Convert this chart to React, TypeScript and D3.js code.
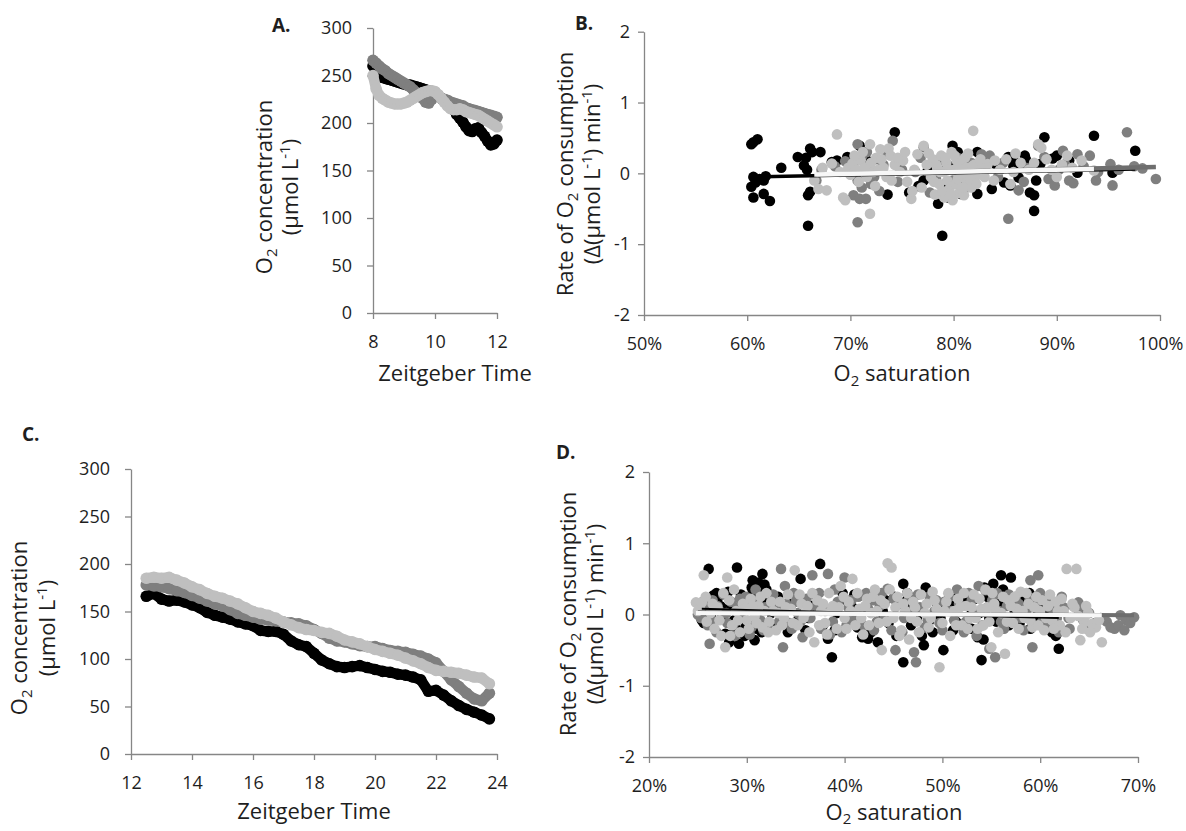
import * as d3 from "d3";
import { useEffect, useRef } from "react";

// ---- Panel A: O2 concentration, ZT 8-12 ----
const timeA = [8.0, 8.1, 8.2, 8.3, 8.4, 8.5, 8.6, 8.7, 8.8, 8.9, 9.0, 9.1, 9.2, 9.3, 9.4, 9.5, 9.6, 9.7, 9.8, 9.9, 10.0,
	10.1, 10.2, 10.3, 10.4, 10.5, 10.6, 10.7, 10.8, 10.9, 11.0, 11.1, 11.2, 11.3, 11.4, 11.5, 11.6, 11.7, 11.8, 11.9, 12.0];
const blackA = [260, 255, 250, 248, 247, 246, 245, 244, 243, 242, 241, 240, 240, 239, 238, 237, 236, 235, 234, 233, 232,
	229, 226, 223, 220, 218, 214, 209, 205, 201, 196, 192, 191, 194, 195, 190, 186, 181, 177, 178, 182];
const darkA = [266, 263, 260, 257, 255, 252, 250, 248, 246, 244, 242, 240, 238, 235, 232, 230, 226, 222, 221, 225, 229,
	228, 226, 225, 224, 222, 221, 220, 219, 218, 216, 215, 214, 213, 212, 211, 210, 209, 208, 207, 206];
const lightA = [250, 236, 229, 226, 224, 222, 221, 220, 220, 220, 221, 222, 224, 226, 228, 230, 232, 233, 234, 234, 233,
	230, 226, 222, 218, 215, 214, 214, 215, 214, 212, 211, 210, 209, 208, 206, 204, 202, 200, 198, 196];

// ---- Panel C: O2 concentration, ZT 12.5-24 ----
const timeC = [12.5, 12.75, 13, 13.25, 13.5, 13.75, 14, 14.25, 14.5, 14.75, 15, 15.25, 15.5, 15.75, 16, 16.25, 16.5, 16.75,
	17, 17.25, 17.5, 17.75, 18, 18.25, 18.5, 18.75, 19, 19.25, 19.5, 19.75, 20, 20.25, 20.5, 20.75, 21, 21.25, 21.5, 21.75,
	22, 22.25, 22.5, 22.75, 23, 23.25, 23.5, 23.75];
const blackC = [166, 169, 163, 161, 162, 160, 157, 154, 149, 146, 144, 142, 139, 137, 135, 130, 129, 129, 126, 119, 115, 113,
	106, 99, 95, 92, 91, 92, 93, 91, 89, 87, 86, 84, 83, 81, 78, 66, 67, 62, 56, 51, 47, 44, 41, 37];
const darkC = [178, 177, 176, 174, 172, 170, 167, 164, 161, 158, 156, 152, 148, 146, 144, 142, 141, 140, 139, 138, 137, 135,
	131, 127, 122, 119, 118, 116, 114, 113, 113, 111, 109, 108, 107, 105, 103, 100, 96, 87, 78, 71, 64, 58, 56, 64];
const lightC = [185, 186, 185, 186, 183, 180, 176, 173, 169, 166, 164, 161, 158, 154, 150, 148, 146, 143, 139, 136, 133, 131,
	130, 128, 127, 124, 120, 118, 116, 113, 110, 108, 106, 104, 101, 98, 95, 91, 88, 87, 86, 85, 83, 81, 80, 74];

// ---- Panel B: rate vs O2 saturation (%) ----
const blackB = [[60.4, 0.41], [60.6, 0.44], [61.0, 0.48], [60.6, -0.05], [60.8, -0.13], [60.4, -0.19], [60.6, -0.34], [61.2, -0.08],
	[61.6, -0.10], [61.6, -0.29], [62.2, -0.39], [61.8, -0.04], [63.3, 0.08], [64.9, 0.23], [65.5, 0.11], [65.7, 0.22], [66.1, 0.35],
	[65.9, -0.74], [65.9, -0.31], [66.1, -0.26], [65.8, 0.05], [66.3, 0.30], [67.1, 0.30], [68.2, 0.16], [68.7, 0.18], [69.7, 0.23],
	[70.9, 0.39], [74.3, 0.58], [71.5, 0.20], [70.2, 0.12], [73.6, -0.30], [75.7, -0.27], [76.6, -0.18], [77.1, -0.10], [77.5, 0.04],
	[78.5, -0.43], [78.9, -0.88], [79.5, -0.34], [79.9, 0.39], [80.4, 0.30], [80.7, -0.06], [80.7, -0.29], [81.5, 0.10], [81.9, -0.10],
	[82.3, 0.30], [82.3, -0.29], [82.7, 0.20], [83.7, -0.22], [84.1, 0.13], [84.9, -0.13], [85.3, 0.23], [85.5, -0.17], [86.3, -0.06],
	[86.9, 0.25], [87.4, -0.27], [87.8, -0.31], [87.8, -0.53], [88.4, 0.13], [88.8, 0.51], [89.6, 0.21], [90.0, 0.25], [91.2, 0.18],
	[92.0, 0.01], [93.6, 0.53], [95.4, 0.01], [97.6, 0.32], [79.6, 0.10], [78.2, -0.05], [84.4, 0.05], [86.0, 0.15], [87.0, 0.20],
	[79.2, -0.15], [80.2, 0.05], [81.2, -0.20], [83.0, 0.05], [85.8, 0.10], [88.0, -0.10]];
const darkB = [[66.7, -0.10], [67.2, 0.05], [68.5, 0.10], [69.5, 0.17], [70.3, -0.31], [70.5, 0.23], [70.7, 0.41], [70.7, -0.10],
	[70.7, -0.69], [70.9, -0.36], [71.1, 0.23], [71.1, -0.20], [71.5, -0.36], [71.8, 0.10], [72.3, -0.05], [72.6, 0.20], [73.2, 0.12],
	[74.1, 0.46], [75.0, 0.05], [76.3, 0.02], [77.1, 0.37], [77.7, -0.27], [78.6, 0.18], [79.3, 0.06], [79.9, -0.10], [80.4, 0.22],
	[81.1, -0.20], [81.7, 0.15], [82.7, 0.27], [83.5, 0.25], [84.3, -0.05], [85.3, -0.64], [86.3, -0.24], [87.0, 0.08], [88.2, 0.39],
	[88.8, 0.23], [89.2, -0.08], [89.8, -0.17], [90.6, 0.32], [90.8, 0.13], [91.2, -0.10], [91.6, -0.14], [92.0, 0.27], [92.6, 0.10],
	[93.2, 0.25], [94.0, 0.02], [95.2, 0.13], [95.4, -0.17], [96.0, 0.05], [96.8, 0.58], [97.5, 0.10], [98.3, 0.07], [99.6, -0.08],
	[71.3, 0.05], [71.6, 0.30], [72.0, -0.15], [72.8, -0.25], [73.6, 0.28], [74.6, -0.12], [76.8, 0.22], [78.3, -0.08], [80.8, 0.05],
	[82.0, -0.12], [84.8, 0.15], [86.8, -0.12], [90.2, 0.05], [93.8, -0.10]];
const lightB = [[66.5, -0.10], [66.9, -0.22], [67.3, 0.08], [67.7, -0.24], [68.2, 0.14], [68.7, 0.55], [69.0, 0.02], [69.3, -0.34],
	[69.5, -0.38], [69.8, 0.08], [70.2, 0.14], [70.6, 0.05], [71.0, 0.18], [71.4, 0.08], [71.9, 0.41], [71.9, -0.57], [72.2, 0.02],
	[72.5, 0.22], [72.9, 0.34], [73.2, 0.08], [73.5, -0.05], [73.9, 0.25], [74.3, 0.12], [74.8, 0.02], [75.1, 0.18], [75.5, -0.12],
	[75.9, -0.36], [76.2, 0.05], [76.5, 0.27], [76.9, -0.20], [77.1, 0.39], [77.4, 0.12], [77.8, -0.05], [78.0, 0.20], [78.2, -0.30],
	[78.4, 0.08], [78.6, -0.15], [78.8, 0.25], [79.0, 0.02], [79.1, -0.34], [79.3, 0.15], [79.4, -0.10], [79.6, -0.22], [79.8, 0.30],
	[79.9, -0.38], [80.0, 0.05], [80.2, -0.15], [80.3, 0.18], [80.5, -0.28], [80.6, 0.10], [80.8, -0.05], [81.0, -0.31], [81.1, 0.22],
	[81.3, -0.12], [81.5, 0.02], [81.7, -0.20], [81.9, 0.60], [82.0, 0.12], [82.4, -0.02], [82.8, 0.08], [83.3, 0.13], [83.9, -0.10],
	[84.5, 0.05], [85.1, 0.20], [85.8, 0.02], [86.5, 0.15], [87.3, 0.05], [88.2, 0.41], [88.5, 0.36], [89.5, 0.05], [90.5, 0.12],
	[91.5, 0.08], [92.4, 0.18], [93.6, 0.04],
	[70.0, -0.02], [70.4, 0.25], [70.8, -0.12], [71.2, 0.30], [71.6, -0.05], [72.0, 0.15], [72.4, -0.18], [72.7, 0.05], [73.0, 0.20],
	[73.7, 0.35], [74.0, -0.10], [74.6, 0.22], [75.3, 0.30], [76.0, -0.25], [77.6, 0.28], [78.1, -0.12], [78.3, 0.12], [78.7, 0.02],
	[78.9, -0.25], [79.2, 0.22], [79.5, 0.05], [79.7, -0.30], [80.1, 0.25], [80.4, -0.08], [80.7, 0.15], [80.9, -0.20], [81.2, 0.08],
	[81.4, 0.28], [81.6, -0.08], [81.8, 0.10], [82.2, -0.15], [82.6, 0.20], [83.0, -0.05], [84.0, 0.18], [85.5, -0.15], [86.0, 0.28],
	[87.8, 0.15], [89.0, 0.20], [90.0, -0.05], [91.0, 0.25]];
// trend lines [x0, y0, x1, y1]
const trendB = { black: [60.4, -0.05, 97.6, 0.06], dark: [66.7, -0.02, 99.6, 0.09], light: [66.5, -0.015, 93.6, 0.06] };

// ---- Panel D: rate vs O2 saturation (%) ----
const blackD = [[25.4, -0.08], [25.6, -0.12], [26.1, 0.64], [26.6, 0.27], [26.9, 0.30], [27.3, 0.12], [27.5, -0.05], [27.8, -0.27],
	[28.1, 0.32], [28.2, -0.39], [28.6, -0.27], [28.9, -0.20], [29.0, 0.66], [29.2, -0.41], [29.5, 0.10], [29.9, -0.15], [30.3, 0.25],
	[30.5, 0.38], [30.6, 0.48], [30.7, 0.15], [30.8, -0.36], [30.9, 0.05], [31.1, 0.30], [31.3, 0.20], [31.6, 0.57], [31.8, 0.42],
	[32.2, 0.18], [32.8, -0.18], [33.5, 0.08], [34.2, -0.25], [35.1, -0.10], [35.5, 0.50], [36.0, -0.22], [36.6, 0.12], [37.5, 0.71],
	[37.8, -0.15], [38.3, -0.34], [38.7, -0.60], [39.2, 0.02], [40.2, 0.20], [40.8, 0.10], [41.3, -0.18], [41.8, -0.32], [42.4, -0.34],
	[42.9, -0.20], [43.4, -0.39], [43.9, 0.05], [44.5, -0.12], [45.1, 0.25], [45.6, 0.15], [46.0, 0.43], [46.0, -0.67], [46.4, 0.30],
	[46.8, -0.15], [47.4, -0.05], [48.1, -0.43], [48.3, 0.38], [48.6, -0.10], [49.0, -0.25], [49.5, 0.12], [50.1, -0.50], [50.6, 0.08],
	[51.1, -0.22], [51.6, 0.25], [52.2, -0.18], [52.8, 0.10], [53.3, 0.22], [53.6, -0.32], [54.0, -0.64], [54.3, 0.38], [54.8, -0.05],
	[55.2, 0.43], [55.7, 0.15], [56.0, 0.55], [56.5, 0.28], [57.0, 0.52], [57.4, 0.05], [57.9, -0.12], [58.4, 0.22], [58.9, 0.30],
	[59.3, -0.08], [59.8, 0.02], [60.5, -0.15], [61.2, -0.25], [61.6, -0.30], [61.9, -0.48],
	[26.3, -0.02], [27.0, 0.22], [27.6, 0.08], [28.4, 0.12], [28.7, -0.08], [29.4, 0.28], [29.8, -0.30], [30.2, 0.10], [30.4, -0.10],
	[30.6, 0.30], [30.9, 0.22], [31.0, -0.20], [31.2, 0.45], [31.4, 0.05], [31.5, -0.25], [32.0, 0.35], [32.5, 0.02], [33.2, 0.25],
	[34.6, 0.15], [36.3, -0.05], [37.0, 0.28], [39.0, -0.22], [39.8, 0.30], [40.5, -0.10], [41.0, 0.28], [42.0, 0.05], [42.7, -0.25],
	[43.6, -0.10], [44.2, 0.20], [45.3, -0.30], [46.2, 0.18], [47.0, 0.10], [47.9, -0.30], [48.8, 0.25], [49.8, -0.05], [51.0, 0.12],
	[51.4, -0.10], [52.5, 0.20], [53.0, -0.20], [53.8, 0.02], [54.2, -0.35], [54.6, 0.25], [55.5, -0.10], [56.2, 0.35], [56.8, -0.15],
	[58.0, 0.12], [59.0, -0.20], [60.0, 0.15], [60.8, 0.05], [61.5, -0.10]];
const darkD = [[25.0, 0.00], [25.3, -0.05], [25.7, 0.12], [26.0, -0.15], [26.2, -0.41], [26.5, 0.20], [26.9, -0.25], [27.2, 0.05],
	[27.6, 0.28], [28.0, -0.12], [28.4, 0.18], [28.8, -0.30], [29.3, 0.22], [29.7, -0.05], [30.1, 0.12], [30.5, -0.18], [30.9, 0.35],
	[31.4, -0.08], [31.9, 0.10], [32.3, -0.20], [32.7, 0.28], [33.1, 0.05], [33.5, 0.64], [33.7, -0.46], [34.0, 0.15], [34.4, -0.12],
	[34.8, 0.30], [35.2, 0.02], [35.7, -0.32], [36.1, 0.22], [36.5, -0.05], [36.7, 0.55], [37.1, 0.12], [37.6, -0.20], [38.0, 0.05],
	[38.3, 0.57], [38.8, -0.10], [39.3, 0.18], [39.7, -0.25], [40.0, 0.52], [40.4, 0.10], [40.9, -0.08], [41.4, 0.25], [41.9, -0.15],
	[42.4, 0.08], [42.9, 0.20], [43.3, -0.10], [43.8, 0.30], [44.4, 0.36], [44.8, -0.22], [45.2, -0.50], [45.6, 0.15], [46.1, -0.05],
	[46.6, 0.22], [47.1, -0.53], [47.3, -0.67], [47.7, 0.10], [48.2, -0.18], [48.7, 0.25], [49.2, 0.05], [49.7, -0.12], [50.2, 0.18],
	[50.7, 0.25], [51.2, -0.08], [51.7, 0.15], [52.2, -0.25], [52.7, 0.30], [53.2, 0.02], [53.7, 0.40], [54.1, -0.15], [54.4, 0.34],
	[54.8, -0.48], [55.1, 0.20], [55.4, -0.60], [55.8, 0.05], [56.3, -0.20], [56.8, 0.28], [57.3, -0.05], [57.8, 0.15], [58.3, -0.22],
	[58.7, 0.08], [59.0, 0.48], [59.2, -0.46], [59.5, 0.12], [59.8, 0.55], [60.2, -0.10], [60.6, 0.22], [61.0, -0.18], [61.4, 0.05],
	[61.9, -0.25], [62.4, 0.10], [62.9, -0.05], [63.4, 0.12], [63.9, 0.17], [64.4, -0.08], [65.0, 0.02], [65.6, -0.12], [66.2, -0.05],
	[66.8, -0.10], [67.2, -0.18], [67.6, -0.20], [68.0, -0.15], [68.2, -0.01], [68.6, -0.22], [68.8, -0.08], [69.2, -0.12], [69.6, -0.04],
	[25.5, 0.18], [26.4, -0.08], [27.0, 0.12], [27.9, 0.02], [28.6, -0.15], [29.1, 0.10], [29.9, 0.25], [30.3, -0.28], [31.1, 0.18],
	[31.7, -0.22], [32.5, 0.12], [33.3, -0.10], [33.9, 0.40], [34.6, -0.20], [35.0, 0.18], [35.5, -0.10], [36.3, 0.05], [37.4, 0.30],
	[38.5, -0.28], [39.0, 0.35], [40.2, -0.15], [40.7, 0.20], [41.6, -0.05], [42.2, 0.30], [43.0, -0.22], [43.6, 0.12], [44.1, -0.05],
	[45.0, 0.22], [45.9, -0.25], [46.8, 0.05], [47.5, 0.28], [48.5, -0.08], [49.4, 0.20], [50.0, -0.22], [50.9, 0.05], [51.5, 0.35],
	[52.4, -0.10], [53.0, 0.20], [53.5, -0.30], [54.6, 0.10], [55.6, 0.30], [56.0, -0.10], [56.6, 0.12], [57.5, 0.25], [58.0, -0.05],
	[58.9, 0.20], [60.0, 0.30], [60.9, 0.10], [61.7, -0.05], [62.2, 0.25], [63.0, -0.20], [64.0, 0.05], [64.8, -0.20]];
const lightD = [[24.8, 0.17], [25.2, 0.08], [25.4, 0.17], [25.6, 0.55], [25.9, -0.10], [26.3, 0.02], [26.7, -0.20], [27.0, 0.10],
	[27.4, -0.30], [27.8, -0.46], [28.0, 0.52], [28.2, 0.20], [28.5, -0.15], [28.9, 0.05], [29.3, -0.25], [29.6, 0.15], [30.0, -0.08],
	[30.4, 0.22], [30.8, -0.02], [31.2, 0.12], [31.6, -0.18], [32.0, 0.30], [32.3, -0.10], [32.7, 0.05], [33.0, -0.22], [33.4, 0.18],
	[33.8, -0.05], [34.2, 0.28], [34.5, 0.08], [34.9, 0.62], [35.2, -0.15], [35.6, 0.15], [36.0, 0.02], [36.4, -0.25], [36.9, -0.39],
	[37.2, 0.20], [37.6, 0.05], [38.0, -0.12], [38.4, 0.30], [38.8, 0.12], [39.2, -0.20], [39.6, 0.40], [40.0, -0.05], [40.4, 0.18],
	[40.8, 0.50], [41.1, -0.15], [41.5, 0.08], [41.9, -0.28], [42.3, 0.22], [42.7, 0.02], [43.1, 0.35], [43.5, -0.12], [43.8, -0.50],
	[44.1, 0.15], [44.4, 0.72], [44.8, 0.66], [45.0, -0.05], [45.4, 0.25], [45.8, -0.22], [46.2, 0.05], [46.6, -0.35], [47.0, 0.18],
	[47.4, -0.10], [47.8, 0.28], [48.2, 0.02], [48.6, -0.18], [49.0, 0.32], [49.4, 0.08], [49.7, -0.74], [50.0, -0.12], [50.4, 0.18],
	[50.8, -0.30], [51.2, 0.05], [51.6, 0.22], [52.0, -0.15], [52.4, 0.12], [52.8, -0.05], [53.2, 0.28], [53.6, -0.20], [54.0, 0.08],
	[54.4, 0.35], [54.8, -0.10], [55.0, -0.46], [55.3, 0.15], [55.7, -0.25], [56.0, 0.02], [56.4, -0.55], [56.8, 0.20], [57.2, -0.12],
	[57.6, 0.08], [58.0, 0.32], [58.4, -0.05], [58.8, 0.15], [59.2, -0.18], [59.6, 0.25], [60.0, 0.05], [60.4, -0.22], [60.8, 0.12],
	[61.2, -0.08], [61.6, 0.18], [62.0, -0.15], [62.4, 0.05], [62.7, 0.64], [63.1, -0.05], [63.5, 0.10], [63.7, 0.64], [64.1, -0.36],
	[64.5, -0.10], [64.9, 0.02], [65.3, -0.13], [65.7, -0.18], [66.0, -0.08], [66.3, -0.39],
	[25.0, 0.05], [25.8, 0.25], [26.5, 0.15], [27.2, -0.08], [27.6, 0.30], [28.3, -0.30], [28.7, 0.35], [29.1, -0.08], [29.8, 0.08],
	[30.2, -0.20], [30.6, 0.12], [31.0, -0.12], [31.4, 0.25], [31.8, 0.05], [32.2, -0.25], [32.5, 0.18], [33.2, 0.02], [33.6, -0.15],
	[34.0, 0.10], [34.7, -0.12], [35.4, 0.28], [35.8, -0.05], [36.2, 0.12], [36.7, 0.30], [37.4, -0.15], [37.8, 0.15], [38.2, -0.28],
	[38.6, 0.05], [39.4, 0.10], [39.9, 0.25], [40.2, -0.20], [40.6, 0.05], [41.3, 0.30], [41.7, -0.05], [42.1, 0.12], [42.5, -0.15],
	[42.9, 0.25], [43.3, 0.05], [43.7, 0.20], [44.3, -0.10], [44.6, 0.35], [45.2, 0.10], [45.6, -0.30], [46.0, 0.15], [46.4, 0.30],
	[46.8, -0.05], [47.2, 0.10], [47.6, -0.25], [48.4, 0.15], [48.8, -0.05], [49.2, 0.20], [50.2, 0.05], [50.6, 0.30], [51.4, -0.15],
	[51.8, 0.10], [52.2, 0.30], [52.6, -0.20], [53.0, 0.10], [53.4, -0.05], [53.8, 0.22], [54.2, -0.15], [54.6, 0.10], [55.1, 0.30],
	[55.5, 0.05], [56.2, 0.25], [56.6, -0.10], [57.0, 0.12], [57.4, 0.25], [57.8, -0.20], [58.2, 0.05], [58.6, 0.30], [59.0, -0.08],
	[59.4, 0.10], [59.8, -0.15], [60.2, 0.20], [60.6, -0.05], [61.0, 0.28], [61.4, -0.20], [61.8, 0.05], [62.2, 0.22], [62.6, -0.25],
	[63.3, 0.15], [63.9, -0.02], [64.3, -0.20], [64.7, 0.12], [65.1, -0.25]];
const trendD = { black: [25.4, 0.08, 61.9, -0.05], dark: [25.0, 0.03, 69.6, -0.01], light: [24.8, 0.02, 66.3, -0.01] };

const concTicks = [0, 50, 100, 150, 200, 250, 300];
const rateTicks = [-2, -1, 0, 1, 2];
const ticksA = [8, 10, 12];
const ticksC = [12, 14, 16, 18, 20, 22, 24];
const ticksB = [50, 60, 70, 80, 90, 100];
const ticksD = [20, 30, 40, 50, 60, 70];

const BLACK = "#000000";
const DARK = "#7f7f7f";
const LIGHT = "#bfbfbf";
const AXIS = "#868686";
const TEXT = "#1e1e1e";
const FONT = "'Open Sans', sans-serif";

type Seg = [string, number, boolean?];

function addSegs(t: any, segs: Seg[]) {
	let cur = 0;
	segs.forEach(([s, shift, small]) => {
		t.append("tspan")
			.attr("dy", shift - cur)
			.attr("font-size", small ? 15 : 22)
			.text(s);
		cur = shift;
	});
}

function rotatedTitle(svg: any, x: number, y: number, segs: Seg[]) {
	const t = svg
		.append("text")
		.attr("transform", `translate(${x},${y}) rotate(-90)`)
		.attr("text-anchor", "middle")
		.attr("font-family", FONT)
		.attr("font-size", 22)
		.attr("fill", TEXT);
	addSegs(t, segs);
}

function flatTitle(svg: any, x: number, y: number, segs: Seg[]) {
	const t = svg
		.append("text")
		.attr("x", x)
		.attr("y", y)
		.attr("text-anchor", "middle")
		.attr("font-family", FONT)
		.attr("font-size", 22)
		.attr("fill", TEXT);
	addSegs(t, segs);
}

function drawAxes(svg: any, x: any, y: any, xTicks: number[], yTicks: number[], xFmt: (d: any) => string, yPad: number) {
	const gx = svg
		.append("g")
		.attr("transform", `translate(0,${y.range()[0]})`)
		.call(d3.axisBottom(x).tickValues(xTicks).tickSize(6).tickSizeOuter(0).tickPadding(16).tickFormat(xFmt));
	const gy = svg
		.append("g")
		.attr("transform", `translate(${x.range()[0]},0)`)
		.call(d3.axisLeft(y).tickValues(yTicks).tickSize(6).tickSizeOuter(0).tickPadding(yPad).tickFormat((d: any) => String(d)));
	[gx, gy].forEach((g) => {
		g.select(".domain").attr("stroke", AXIS).attr("stroke-width", 1.3);
		g.selectAll(".tick line").attr("stroke", AXIS).attr("stroke-width", 1.3);
		g.selectAll(".tick text").attr("font-family", FONT).attr("font-size", 18).attr("fill", TEXT);
	});
}

function panelLetter(svg: any, x: number, y: number, s: string) {
	svg.append("text")
		.attr("x", x)
		.attr("y", y)
		.attr("font-family", FONT)
		.attr("font-size", 19)
		.attr("font-weight", 700)
		.attr("fill", TEXT)
		.text(s);
}

function drawConc(svg: any, times: number[], series: [number[], string][], xDom: number[], box: number[], xTicks: number[]) {
	const x = d3.scaleLinear().domain(xDom).range([box[0], box[1]]);
	const y = d3.scaleLinear().domain([0, 300]).range([box[2], box[3]]);
	drawAxes(svg, x, y, xTicks, concTicks, (d: any) => String(d), 15);
	series.forEach(([vals, color]) => {
		svg.append("path")
			.datum(vals)
			.attr("fill", "none")
			.attr("stroke", color)
			.attr("stroke-width", 10.5)
			.attr("stroke-linejoin", "round")
			.attr("stroke-linecap", "round")
			.attr("d", d3.line<number>().x((_, i) => x(times[i])).y((v) => y(v)));
		svg.append("g")
			.selectAll("circle")
			.data(vals)
			.enter()
			.append("circle")
			.attr("cx", (_: number, i: number) => x(times[i]))
			.attr("cy", (v: number) => y(v))
			.attr("r", 5.8)
			.attr("fill", color);
	});
}

function drawRate(svg: any, series: [number[][], string][], trends: [number[], string, number][], xDom: number[], box: number[], xTicks: number[]) {
	const x = d3.scaleLinear().domain(xDom).range([box[0], box[1]]);
	const y = d3.scaleLinear().domain([-2, 2]).range([box[2], box[3]]);
	drawAxes(svg, x, y, xTicks, rateTicks, (d: any) => d + "%", 8);
	series.forEach(([pts, color]) => {
		svg.append("g")
			.selectAll("circle")
			.data(pts)
			.enter()
			.append("circle")
			.attr("cx", (d: number[]) => x(d[0]))
			.attr("cy", (d: number[]) => y(d[1]))
			.attr("r", 5.3)
			.attr("fill", color);
	});
	trends.forEach(([t, color, w]) => {
		svg.append("line")
			.attr("x1", x(t[0]))
			.attr("y1", y(t[1]))
			.attr("x2", x(t[2]))
			.attr("y2", y(t[3]))
			.attr("stroke", color)
			.attr("stroke-width", w);
	});
}

function App() {
	const ref = useRef<SVGSVGElement>(null);

	useEffect(() => {
		const svg = d3.select(ref.current);
		svg.selectAll("*").remove();

		// A
		drawConc(svg, timeA, [[blackA, BLACK], [darkA, DARK], [lightA, LIGHT]], [8, 12], [373, 497, 313, 28], ticksA);
		panelLetter(svg, 272, 32, "A.");
		rotatedTitle(svg, 272, 187, [["O", 0], ["2", 5, true], [" concentration", 0]]);
		rotatedTitle(svg, 298, 187, [["(µmol L", 0], ["-1", -8, true], [")", 0]]);
		flatTitle(svg, 455, 381, [["Zeitgeber Time", 0]]);

		// B
		drawRate(svg, [[blackB, BLACK], [darkB, DARK], [lightB, LIGHT]],
			[[trendB.black, BLACK, 3.5], [trendB.dark, "#6e6e6e", 4.5], [trendB.light, "#f7f7f7", 4.5]],
			[50, 100], [644, 1160, 315, 31.7], ticksB);
		panelLetter(svg, 575, 30, "B.");
		rotatedTitle(svg, 573, 174, [["Rate of O", 0], ["2", 5, true], [" consumption", 0]]);
		rotatedTitle(svg, 600, 174, [["(Δ(µmol L", 0], ["-1", -8, true], [") min", 0], ["-1", -8, true], [")", 0]]);
		flatTitle(svg, 902, 381, [["O", 0], ["2", 5, true], [" saturation", 0]]);

		// C
		drawConc(svg, timeC, [[blackC, BLACK], [darkC, DARK], [lightC, LIGHT]], [12, 24], [131, 497, 754, 469], ticksC);
		panelLetter(svg, 22, 441, "C.");
		rotatedTitle(svg, 27, 628, [["O", 0], ["2", 5, true], [" concentration", 0]]);
		rotatedTitle(svg, 55, 628, [["(µmol L", 0], ["-1", -8, true], [")", 0]]);
		flatTitle(svg, 314, 819, [["Zeitgeber Time", 0]]);

		// D
		drawRate(svg, [[blackD, BLACK], [darkD, DARK], [lightD, LIGHT]],
			[[trendD.black, BLACK, 2], [trendD.dark, "#6e6e6e", 4], [trendD.light, "#f7f7f7", 4]],
			[20, 70], [649, 1138, 757, 472], ticksD);
		panelLetter(svg, 556, 459, "D.");
		rotatedTitle(svg, 576, 614, [["Rate of O", 0], ["2", 5, true], [" consumption", 0]]);
		rotatedTitle(svg, 603, 614, [["(Δ(µmol L", 0], ["-1", -8, true], [") min", 0], ["-1", -8, true], [")", 0]]);
		flatTitle(svg, 894, 820, [["O", 0], ["2", 4, true], [" saturation", 0]]);
	}, []);

	return (
		<svg
			ref={ref}
			width={1186}
			height={831}
			style={{ position: "absolute", left: 0, top: 0, background: "#fff" }}
		/>
	);
}

export default App;
